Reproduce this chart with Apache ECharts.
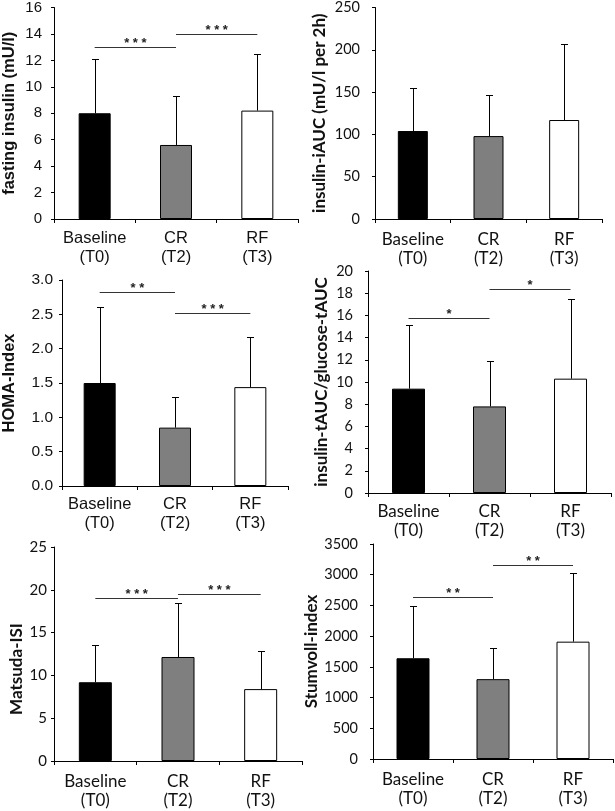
<!DOCTYPE html>
<html>
<head>
<meta charset="utf-8">
<script src="https://cdn.jsdelivr.net/npm/echarts@6/dist/echarts.min.js"></script>
<style>
html,body{margin:0;padding:0;background:#fff;}
#chart{width:615px;height:811px;}
</style>
</head>
<body>
<div id="chart"></div>
<script>
// ---------- data ----------
const categories = ['Baseline\n(T0)', 'CR\n(T2)', 'RF\n(T3)'];

const fastingInsulinMean = [8.0, 5.6, 8.2];
const fastingInsulinUpper = [12.1, 9.3, 12.45];
const fastingInsulinSig = [[0, 1, 13.0], [1, 2, 14.0]];
const fastingInsulinSigLabels = ['***', '***'];
const fastingInsulinTicks = [0, 16, 2];

const insulinIAUCMean = [104, 98, 117];
const insulinIAUCUpper = [155, 147, 207];
const insulinIAUCSig = [];
const insulinIAUCSigLabels = [];
const insulinIAUCTicks = [0, 250, 50];

const homaMean = [1.5, 0.85, 1.44];
const homaUpper = [2.6, 1.3, 2.17];
const homaSig = [[0, 1, 2.83], [1, 2, 2.52]];
const homaSigLabels = ['**', '***'];
const homaTicks = [0, 3, 0.5];

const ratioMean = [9.4, 7.8, 10.3];
const ratioUpper = [15.15, 11.9, 17.5];
const ratioSig = [[0, 1, 15.8], [1, 2, 18.35]];
const ratioSigLabels = ['*', '*'];
const ratioTicks = [0, 20, 2];

const matsudaMean = [9.2, 12.15, 8.4];
const matsudaUpper = [13.6, 18.45, 12.9];
const matsudaSig = [[0, 1, 19.1], [1, 2, 19.5]];
const matsudaSigLabels = ['***', '***'];
const matsudaTicks = [0, 25, 5];

const stumvollMean = [1640, 1300, 1910];
const stumvollUpper = [2490, 1800, 3030];
const stumvollSig = [[0, 1, 2630], [1, 2, 3155]];
const stumvollSigLabels = ['**', '**'];
const stumvollTicks = [0, 3500, 500];

const yTitles = ['fasting insulin (mU/l)', 'insulin-iAUC (mU/l per 2h)', 'HOMA-Index',
  'insulin-tAUC/glucose-tAUC', 'Matsuda-ISI', 'Stumvoll-index'];

// ---------- layout / style ----------
const ARIAL = 'Liberation Sans';
const CAL = 'Lato';
const barColors = ['#000000', '#7f7f7f', '#ffffff'];

const panels = [
  {mean: fastingInsulinMean, upper: fastingInsulinUpper, sig: fastingInsulinSig, sigL: fastingInsulinSigLabels, ticks: fastingInsulinTicks,
   grid: {left: 52, top: 7.5, width: 246, height: 211.5}, font: ARIAL, tickSize: 15, catSize: 16.5, titleSize: 16.5, nameGap: 36, labMargin: 12, catMargin: 10, barW: 32, dec: 0, namePad: [0, 0, 0, 0]},
  {mean: insulinIAUCMean, upper: insulinIAUCUpper, sig: insulinIAUCSig, sigL: insulinIAUCSigLabels, ticks: insulinIAUCTicks,
   grid: {left: 375, top: 7, width: 227, height: 212}, font: CAL, tickSize: 14.5, catSize: 17, titleSize: 17, nameGap: 47, labMargin: 15, catMargin: 11, barW: 30, dec: 0, namePad: [0, 0, 0, 0]},
  {mean: homaMean, upper: homaUpper, sig: homaSig, sigL: homaSigLabels, ticks: homaTicks,
   grid: {left: 59, top: 280, width: 229, height: 206}, font: ARIAL, tickSize: 15.5, catSize: 16.5, titleSize: 16.5, nameGap: 44, labMargin: 9, catMargin: 9, barW: 32, dec: 1, namePad: [0, 0, 0, 0]},
  {mean: ratioMean, upper: ratioUpper, sig: ratioSig, sigL: ratioSigLabels, ticks: ratioTicks,
   grid: {left: 368, top: 271, width: 243, height: 222}, font: CAL, tickSize: 14.5, catSize: 17, titleSize: 17, nameGap: 38, labMargin: 15, catMargin: 9, barW: 33, dec: 0, namePad: [0, 0, 0, 0]},
  {mean: matsudaMean, upper: matsudaUpper, sig: matsudaSig, sigL: matsudaSigLabels, ticks: matsudaTicks,
   grid: {left: 54, top: 547, width: 248, height: 214}, font: CAL, tickSize: 15, catSize: 17, titleSize: 17, nameGap: 29, labMargin: 7, catMargin: 11, barW: 33, dec: 0, namePad: [0, 30, 0, 0]},
  {mean: stumvollMean, upper: stumvollUpper, sig: stumvollSig, sigL: stumvollSigLabels, ticks: stumvollTicks,
   grid: {left: 373, top: 544, width: 240, height: 215}, font: CAL, tickSize: 14.5, catSize: 17, titleSize: 17, nameGap: 53, labMargin: 15, catMargin: 11, barW: 33, dec: 0, namePad: [0, 0, 0, 0]}
];

const grids = [], xAxes = [], yAxes = [], series = [];

panels.forEach((p, i) => {
  grids.push(p.grid);
  xAxes.push({
    type: 'category', gridIndex: i, data: categories,
    axisLine: {lineStyle: {color: '#000', width: 1}},
    axisTick: {show: true, length: 4, lineStyle: {color: '#000'}},
    axisLabel: {interval: 0, color: '#111', fontFamily: p.font, fontSize: p.catSize, lineHeight: 19, margin: p.catMargin}
  });
  yAxes.push({
    type: 'value', gridIndex: i, min: p.ticks[0], max: p.ticks[1], interval: p.ticks[2],
    name: yTitles[i], nameLocation: 'middle', nameGap: p.nameGap,
    nameTextStyle: {fontFamily: p.font, fontWeight: 'bold', fontSize: p.titleSize, color: '#111', padding: p.namePad},
    splitLine: {show: false},
    axisLine: {show: true, lineStyle: {color: '#000', width: 1}},
    axisTick: {show: true, length: 3, lineStyle: {color: '#000'}},
    axisLabel: {color: '#111', fontFamily: p.font, fontSize: p.tickSize, margin: p.labMargin,
      formatter: v => p.dec ? v.toFixed(p.dec) : String(v)}
  });
  series.push({
    type: 'bar', xAxisIndex: i, yAxisIndex: i, barWidth: p.barW, silent: true,
    data: p.mean.map((v, k) => ({value: v, itemStyle: {color: barColors[k], borderColor: '#000', borderWidth: 1}})),
    z: 2
  });
  series.push({
    type: 'custom', xAxisIndex: i, yAxisIndex: i, silent: true, z: 3,
    encode: {x: 0, y: 1},
    data: p.mean.map((m, k) => [k, p.upper[k], m]),
    renderItem: function (params, api) {
      const x = api.value(0);
      const p1 = api.coord([x, api.value(2)]);
      const p2 = api.coord([x, api.value(1)]);
      const cx = Math.round(p1[0]) + 0.5;
      const ty = Math.round(p2[1]) + 0.5;
      return {type: 'group', children: [
        {type: 'line', shape: {x1: cx, y1: p1[1], x2: cx, y2: ty}, style: {stroke: '#000', lineWidth: 1}},
        {type: 'line', shape: {x1: cx - 3.5, y1: ty, x2: cx + 3.5, y2: ty}, style: {stroke: '#000', lineWidth: 1}}
      ]};
    }
  });
  if (p.sig.length) {
    series.push({
      type: 'custom', xAxisIndex: i, yAxisIndex: i, silent: true, z: 4,
      encode: {x: [0, 1], y: 2},
      data: p.sig,
      renderItem: function (params, api) {
        const a = api.coord([api.value(0), api.value(2)]);
        const b = api.coord([api.value(1), api.value(2)]);
        const y = Math.round(a[1]) + 0.5;
        const lbl = p.sigL[params.dataIndex].split('').join(' ');
        return {type: 'group', children: [
          {type: 'line', shape: {x1: a[0], y1: y, x2: b[0], y2: y}, style: {stroke: '#333', lineWidth: 1}},
          {type: 'text', style: {text: lbl, x: (a[0] + b[0]) / 2, y: y - 4.5, align: 'center', verticalAlign: 'middle',
            font: 'bold 13px ' + ARIAL, fill: '#222'}}
        ]};
      }
    });
  }
});

const chart = echarts.init(document.getElementById('chart'), null, {renderer: 'canvas'});
chart.setOption({
  animation: false,
  backgroundColor: '#fff',
  grid: grids, xAxis: xAxes, yAxis: yAxes, series: series
});
</script>
</body>
</html>
